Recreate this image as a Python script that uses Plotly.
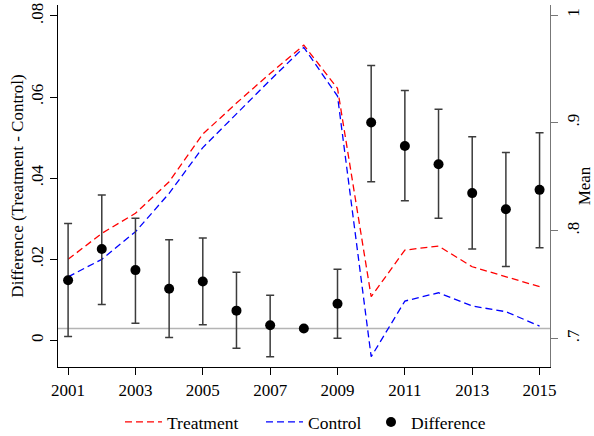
import plotly.graph_objects as go

years = list(range(2001, 2016))

treatment = [0.7733, 0.7974, 0.8160, 0.8453, 0.8895, 0.9183, 0.9458, 0.9721,
             0.9319, 0.7386, 0.7819, 0.7856, 0.7664, 0.7571, 0.7479]
control = [0.7571, 0.7733, 0.7989, 0.8345, 0.8770, 0.9087, 0.9396, 0.9699,
           0.9248, 0.6829, 0.7346, 0.7423, 0.7300, 0.7247, 0.7114]

difference = [0.0148, 0.0225, 0.0173, 0.0127, 0.0145, 0.0073, 0.0037, 0.0029,
              0.0090, 0.0537, 0.0479, 0.0434, 0.0363, 0.0323, 0.0371]
ci_upper = [0.0288, 0.0358, 0.0301, 0.0248, 0.0252, 0.0168, 0.0111, 0.0029,
            0.0175, 0.0678, 0.0616, 0.0570, 0.0502, 0.0463, 0.0512]
ci_lower = [0.0009, 0.0088, 0.0042, 0.0007, 0.0038, -0.0020, -0.0041, 0.0029,
            0.0005, 0.0391, 0.0344, 0.0301, 0.0225, 0.0182, 0.0228]

ref_line = 0.0029

x_ticks = [2001, 2003, 2005, 2007, 2009, 2011, 2013, 2015]
left_ticks = [0, 0.02, 0.04, 0.06, 0.08]
left_labels = ["0", ".02", ".04", ".06", ".08"]
right_ticks = [0.7, 0.8, 0.9, 1.0]
right_labels = [".7", ".8", ".9", "1"]

FONT = "Liberation Serif, Times New Roman, Times, serif"

fig = go.Figure()
fig.add_trace(go.Scatter(x=years, y=treatment, name="Treatment", mode="lines",
                         line=dict(color="#ff0000", width=1.3, dash="7px,4px"),
                         yaxis="y", legend="legend"))
fig.add_trace(go.Scatter(x=years, y=control, name="Control", mode="lines",
                         line=dict(color="#0000ff", width=1.3, dash="7px,4px"),
                         yaxis="y", legend="legend2"))
fig.add_trace(go.Scatter(
    x=years, y=difference, name="Difference", mode="markers",
    marker=dict(color="black", size=10),
    error_y=dict(type="data", symmetric=False,
                 array=[u - d for u, d in zip(ci_upper, difference)],
                 arrayminus=[d - l for d, l in zip(difference, ci_lower)],
                 color="#3c3c3c", thickness=1.5, width=4),
    yaxis="y2", legend="legend3"))

fig.add_shape(type="line", xref="paper", x0=0, x1=1, yref="y2", y0=ref_line, y1=ref_line,
              line=dict(color="#b4b4b4", width=1.5), layer="below")

legend_common = dict(orientation="h", xanchor="left", xref="paper",
                     y=0.032, yanchor="middle", yref="container",
                     font=dict(size=17.5), bgcolor="rgba(0,0,0,0)")

fig.update_layout(
    width=594, height=436,
    margin=dict(l=58, r=44, t=5, b=69, autoexpand=False),
    paper_bgcolor="white", plot_bgcolor="white",
    font=dict(family=FONT, size=17, color="black"),
    showlegend=True,
    legend=dict(x=0.126, itemwidth=37, **legend_common),
    legend2=dict(x=0.4126, itemwidth=37, **legend_common),
    legend3=dict(x=0.6362, itemwidth=30, **legend_common),
    xaxis=dict(range=[2000.7, 2015.31], tickvals=x_ticks, ticks="outside", ticklen=7,
               tickcolor="black", showline=True, linecolor="black", linewidth=1.3,
               showgrid=False, zeroline=False, automargin=False,
               tickfont=dict(size=17)),
    yaxis=dict(range=[0.6734, 1.0093], side="right", tickvals=right_ticks,
               ticktext=right_labels, ticks="outside", ticklen=7, tickcolor="#777777",
               showline=True, linecolor="#777777", linewidth=1.3, showgrid=False,
               zeroline=False, tickangle=-90, automargin=False,
               title=dict(text="Mean", standoff=7, font=dict(size=17))),
    yaxis2=dict(range=[-0.0066, 0.0827], side="left", overlaying="y",
                tickvals=left_ticks, ticktext=left_labels, ticks="outside", ticklen=7,
                tickcolor="black", showline=True, linecolor="black", linewidth=1.3,
                showgrid=False, zeroline=False, tickangle=-90, automargin=False,
                title=dict(text="Difference (Treatment - Control)", standoff=0,
                           font=dict(size=17))),
)

fig.write_html("out.html")
